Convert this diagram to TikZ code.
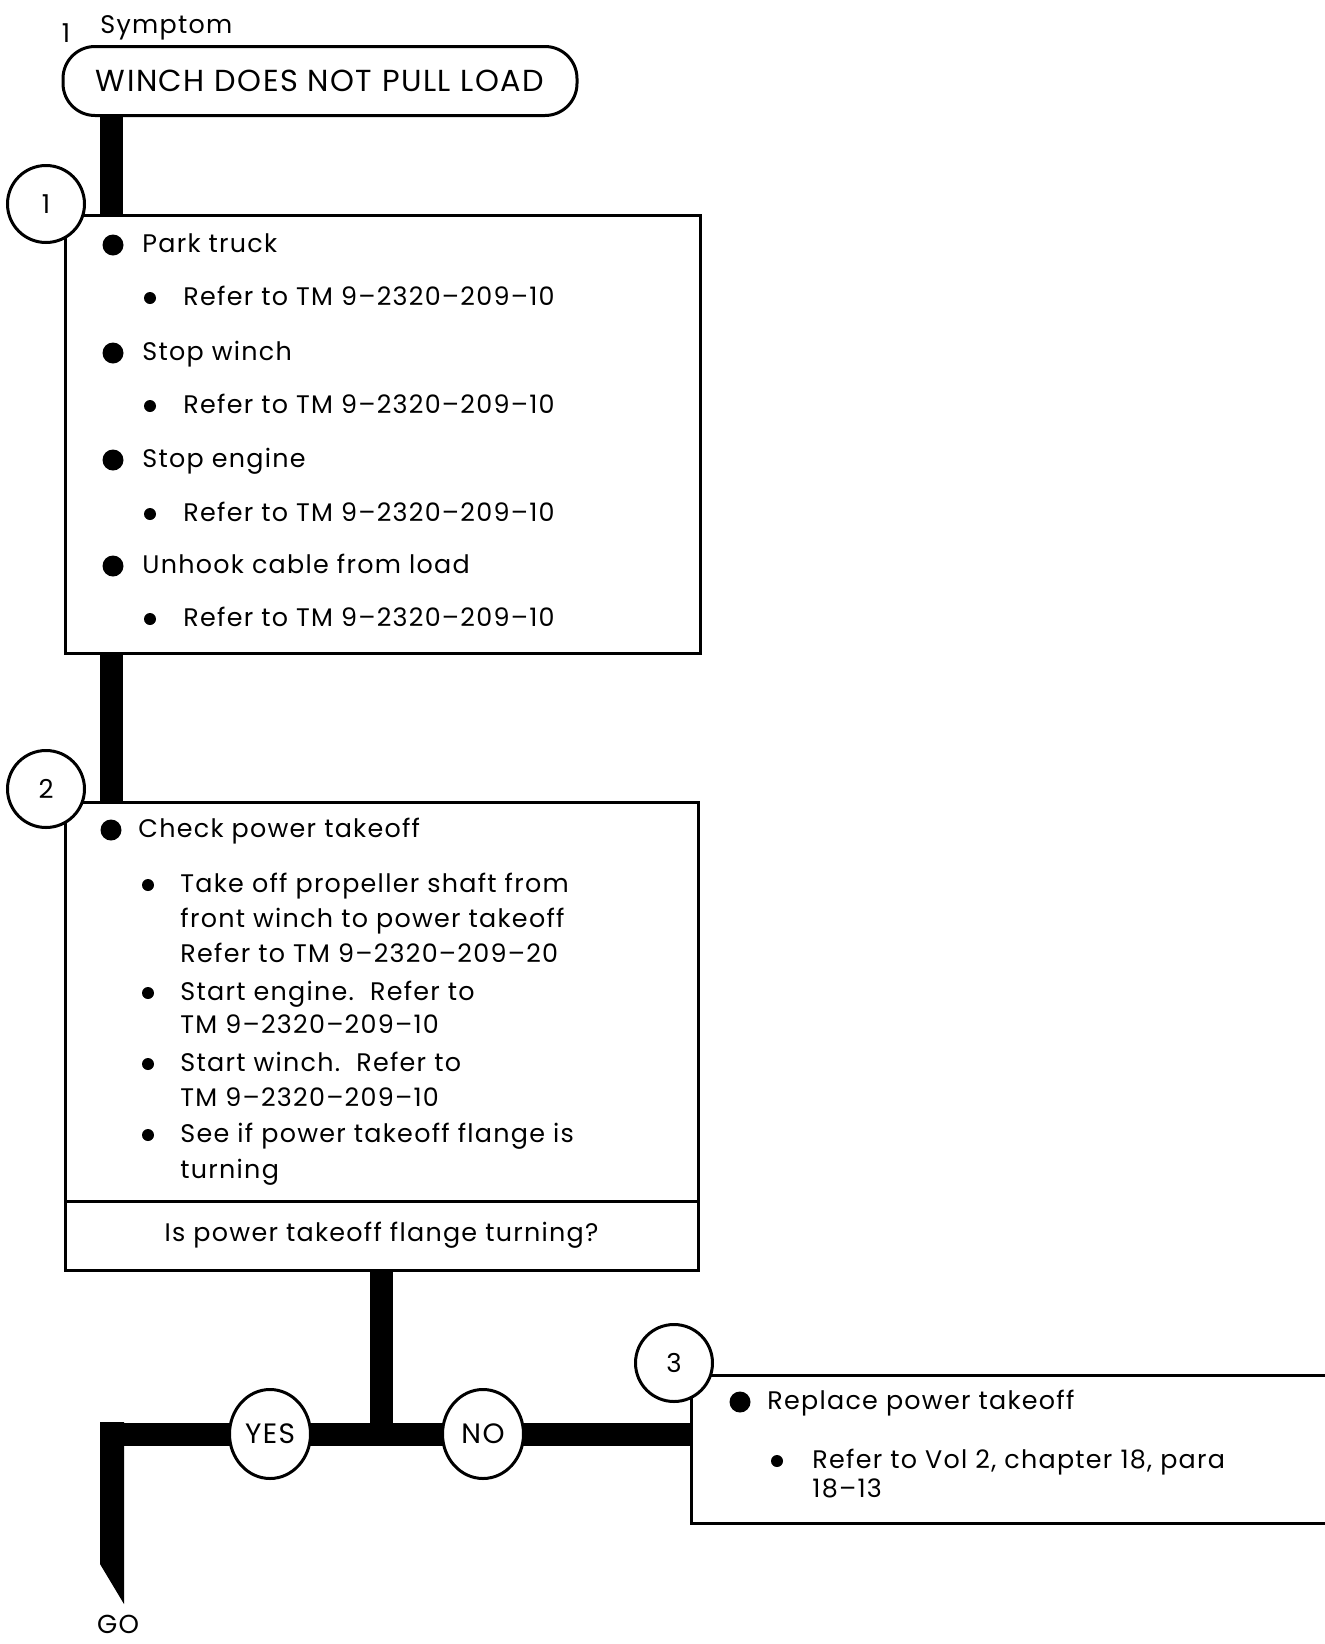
\documentclass[tikz,border=0pt]{standalone}
\usepackage{fontspec}
\setmainfont{Poppins}[LetterSpace=5]
\usetikzlibrary{positioning,shapes.geometric}

\tikzset{
  box/.style={draw, line width=1.5pt, inner sep=0pt, outer sep=0pt},
  stepnum/.style={circle, draw, line width=1.5pt, fill=white, minimum size=38.5pt, inner sep=0pt, font=\fontsize{13}{13}\selectfont},
  answer/.style={ellipse, draw, line width=1.5pt, fill=white, minimum width=40.5pt, minimum height=44.5pt, inner sep=0pt, font=\fontsize{14}{14}\selectfont},
  bar/.style={line width=11.5pt},
  txt/.style={anchor=mid west, inner sep=0pt, yshift=-2pt, font=\fontsize{12.7}{15}\selectfont},
  bigdot/.style={circle, fill, inner sep=0pt, minimum size=10.5pt, yshift=-1pt},
  smalldot/.style={circle, fill, inner sep=0pt, minimum size=6pt, yshift=-1pt},
}

\begin{document}
\begin{tikzpicture}[x=0.5pt,y=-0.5pt]
\useasboundingbox (0,0) rectangle (1324,1644);

\node[inner sep=0pt, font=\fontsize{13}{13}\selectfont] (one) at (66,33) {1};
\node[txt] (symlbl) at (100,24) {Symptom};
\node[draw, line width=1.5pt, rounded corners=16pt, minimum width=257pt, minimum height=34.5pt,
      font=\fontsize{15.2}{15.2}\selectfont] (symptom) at (320,81) {WINCH DOES NOT PULL LOAD};

% step 1
\node[box, minimum width=317.5pt, minimum height=219pt] (box1) at (382.5,434) {};
\coordinate (trunk) at (111,0);
\draw[bar] (symptom.south -| trunk) -- (box1.north -| trunk);
\node[stepnum] (s1) at (46,204) {1};

\node[bigdot] at (113,243) {}; \node[txt] at (142,243) {Park truck};
\node[smalldot] at (150,296) {}; \node[txt] at (183,296) {Refer to TM 9--2320--209--10};
\node[bigdot] at (113,351) {}; \node[txt] at (142,351) {Stop winch};
\node[smalldot] at (150,404) {}; \node[txt] at (183,404) {Refer to TM 9--2320--209--10};
\node[bigdot] at (113,458) {}; \node[txt] at (142,458) {Stop engine};
\node[smalldot] at (150,512) {}; \node[txt] at (183,512) {Refer to TM 9--2320--209--10};
\node[bigdot] at (113,564) {}; \node[txt] at (142,564) {Unhook cable from load};
\node[smalldot] at (150,617) {}; \node[txt] at (183,617) {Refer to TM 9--2320--209--10};

% step 2
\node[box, minimum width=316.5pt, minimum height=199.5pt] (box2) at (381.5,1001.5) {};
\node[box, minimum width=316.5pt, minimum height=34.5pt, below=0pt of box2,
      font=\fontsize{12.7}{15}\selectfont] (query) {Is power takeoff flange turning?};
\draw[bar] (box1.south -| trunk) -- (box2.north -| trunk);
\node[stepnum] (s2) at (46,789) {2};

\node[bigdot] at (111,828) {}; \node[txt] at (138,828) {Check power takeoff};
\node[smalldot] at (148,883) {}; \node[txt] at (180,883) {Take off propeller shaft from};
\node[txt] at (180,918) {front winch to power takeoff};
\node[txt] at (180,953) {Refer to TM 9--2320--209--20};
\node[smalldot] at (148,991) {}; \node[txt] at (180,991) {Start engine.\ \ Refer to};
\node[txt] at (180,1024) {TM 9--2320--209--10};
\node[smalldot] at (148,1062) {}; \node[txt] at (180,1062) {Start winch.\ \ Refer to};
\node[txt] at (180,1097) {TM 9--2320--209--10};
\node[smalldot] at (148,1133) {}; \node[txt] at (180,1133) {See if power takeoff flange is};
\node[txt] at (180,1169) {turning};

% step 3
\coordinate (fix3) at (691,1434);
\draw[line width=1.5pt] (1340,1375) -- (691,1375) -- (691,1523) -- (1340,1523);
\node[bigdot] at (740,1400) {}; \node[txt] at (767,1400) {Replace power takeoff};
\node[smalldot] at (777,1459) {}; \node[txt] at (812,1459) {Refer to Vol 2, chapter 18, para};
\node[txt] at (812,1488) {18--13};

% branches
\coordinate (bend) at (112,1434);
\draw[bar] (query.south) -- (query.south |- fix3);
\draw[bar] (fix3) -- ([xshift=-6pt]bend);
\fill (100,1422) -- (124,1422) -- (124,1604) -- (100,1564) -- cycle;
\node[answer] (yes) at (270,1434) {YES};
\node[answer] (no) at (483,1434) {NO};
\node[stepnum] (s3) at (674,1363) {3};
\node[inner sep=0pt, font=\fontsize{13}{13}\selectfont] (go) at (118,1624) {GO};
\end{tikzpicture}
\end{document}
